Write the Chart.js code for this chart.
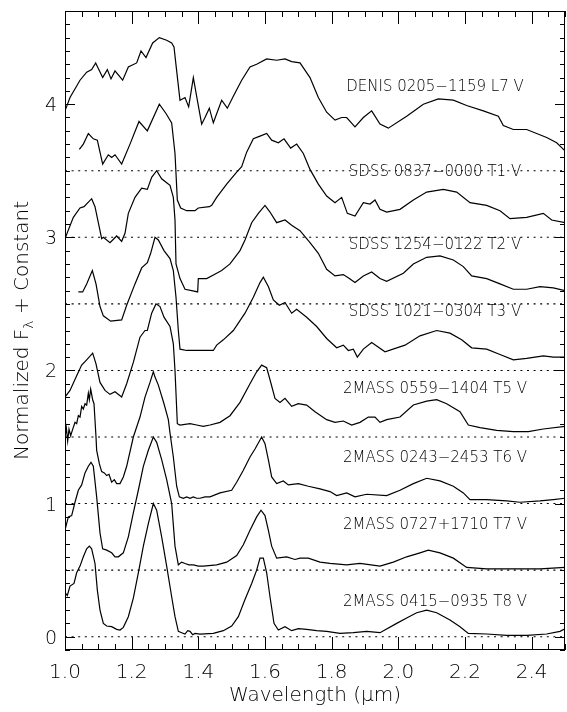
<!DOCTYPE html>
<html>
<head>
<meta charset="utf-8">
<script src="https://cdn.jsdelivr.net/npm/chart.js@4.4.0/dist/chart.umd.min.js"></script>
<style>
  html, body { margin: 0; padding: 0; background: #fff; overflow: hidden; }
</style>
</head>
<body>
<canvas id="specChart" width="567" height="712"></canvas>
<script>
// spectra: [wavelength (um), normalized flux + constant]
const specL7 = [[1.000,3.95],[1.015,4.05],[1.045,4.18],[1.065,4.24],[1.080,4.26],[1.092,4.31],[1.113,4.20],[1.127,4.26],[1.138,4.19],[1.150,4.25],[1.173,4.18],[1.190,4.28],[1.215,4.31],[1.228,4.40],[1.243,4.35],[1.263,4.46],[1.283,4.50],[1.305,4.48],[1.320,4.46],[1.327,4.43],[1.335,4.25],[1.345,4.03],[1.360,4.05],[1.371,3.98],[1.385,4.20],[1.397,4.03],[1.410,3.85],[1.420,3.90],[1.433,3.97],[1.445,3.86],[1.470,4.03],[1.487,3.97],[1.505,4.06],[1.530,4.18],[1.555,4.28],[1.575,4.30],[1.605,4.34],[1.635,4.33],[1.660,4.34],[1.680,4.32],[1.705,4.31],[1.735,4.20],[1.760,4.05],[1.785,3.94],[1.810,3.88],[1.830,3.90],[1.845,3.90],[1.870,3.83],[1.895,3.90],[1.920,3.95],[1.945,3.85],[1.970,3.82],[2.025,3.91],[2.075,4.00],[2.120,4.04],[2.165,4.03],[2.205,3.99],[2.255,3.95],[2.300,3.91],[2.315,3.84],[2.345,3.81],[2.385,3.81],[2.445,3.75],[2.475,3.71],[2.500,3.65]];
const specT1 = [[1.043,3.66],[1.055,3.70],[1.070,3.78],[1.085,3.74],[1.097,3.73],[1.113,3.55],[1.130,3.62],[1.140,3.60],[1.150,3.62],[1.170,3.55],[1.195,3.70],[1.222,3.87],[1.247,3.80],[1.283,4.00],[1.303,3.93],[1.320,3.86],[1.330,3.63],[1.337,3.28],[1.347,3.22],[1.365,3.20],[1.390,3.20],[1.400,3.22],[1.433,3.23],[1.440,3.24],[1.455,3.30],[1.485,3.40],[1.515,3.49],[1.530,3.53],[1.545,3.64],[1.565,3.74],[1.585,3.76],[1.605,3.78],[1.620,3.73],[1.640,3.71],[1.657,3.74],[1.677,3.67],[1.695,3.70],[1.715,3.63],[1.735,3.51],[1.760,3.40],[1.785,3.31],[1.810,3.26],[1.830,3.30],[1.847,3.18],[1.870,3.16],[1.895,3.26],[1.915,3.25],[1.930,3.28],[1.945,3.21],[1.965,3.19],[2.005,3.21],[2.045,3.28],[2.085,3.34],[2.135,3.36],[2.175,3.34],[2.215,3.26],[2.265,3.24],[2.305,3.20],[2.335,3.14],[2.385,3.15],[2.435,3.18],[2.460,3.13],[2.500,3.11]];
const specT2 = [[1.000,2.99],[1.025,3.15],[1.045,3.22],[1.057,3.23],[1.080,3.29],[1.090,3.23],[1.110,2.99],[1.115,3.00],[1.135,2.96],[1.155,3.01],[1.170,2.97],[1.180,3.03],[1.190,3.18],[1.210,3.30],[1.230,3.37],[1.247,3.36],[1.260,3.45],[1.275,3.50],[1.290,3.44],[1.305,3.41],[1.315,3.39],[1.325,3.30],[1.330,3.13],[1.333,2.80],[1.345,2.69],[1.360,2.61],[1.380,2.60],[1.398,2.59],[1.400,2.69],[1.425,2.69],[1.455,2.73],[1.470,2.75],[1.495,2.80],[1.525,2.90],[1.540,2.98],[1.560,3.11],[1.580,3.18],[1.600,3.24],[1.615,3.19],[1.635,3.11],[1.660,3.13],[1.680,3.09],[1.705,3.05],[1.735,2.96],[1.760,2.88],[1.785,2.76],[1.810,2.71],[1.835,2.72],[1.853,2.69],[1.870,2.66],[1.895,2.71],[1.920,2.74],[1.945,2.69],[1.965,2.67],[2.015,2.73],[2.045,2.80],[2.085,2.85],[2.125,2.86],[2.165,2.83],[2.195,2.78],[2.220,2.71],[2.265,2.69],[2.305,2.65],[2.345,2.61],[2.385,2.61],[2.425,2.63],[2.465,2.62],[2.500,2.60]];
const specT3 = [[1.040,2.59],[1.053,2.59],[1.065,2.65],[1.082,2.75],[1.093,2.65],[1.105,2.48],[1.115,2.41],[1.137,2.37],[1.170,2.38],[1.185,2.49],[1.210,2.65],[1.230,2.77],[1.247,2.81],[1.257,2.88],[1.270,3.00],[1.280,2.98],[1.297,2.90],[1.315,2.84],[1.325,2.75],[1.333,2.55],[1.340,2.30],[1.345,2.16],[1.365,2.15],[1.445,2.15],[1.455,2.19],[1.475,2.23],[1.505,2.30],[1.540,2.43],[1.565,2.55],[1.585,2.66],[1.595,2.70],[1.610,2.63],[1.625,2.53],[1.643,2.49],[1.660,2.51],[1.680,2.43],[1.695,2.46],[1.725,2.40],[1.755,2.33],[1.785,2.24],[1.815,2.17],[1.835,2.19],[1.850,2.15],[1.865,2.16],[1.877,2.10],[1.895,2.16],[1.920,2.21],[1.960,2.14],[2.020,2.19],[2.065,2.26],[2.115,2.30],[2.155,2.28],[2.190,2.23],[2.220,2.17],[2.265,2.16],[2.305,2.12],[2.345,2.08],[2.385,2.09],[2.435,2.11],[2.465,2.10],[2.500,2.10]];
const specT5 = [[1.000,1.80],[1.015,1.85],[1.035,1.96],[1.050,2.04],[1.065,2.08],[1.083,2.13],[1.093,2.05],[1.105,1.91],[1.120,1.85],[1.135,1.82],[1.150,1.84],[1.170,1.80],[1.185,1.90],[1.205,2.06],[1.225,2.25],[1.240,2.30],[1.247,2.30],[1.260,2.43],[1.273,2.50],[1.285,2.48],[1.297,2.40],[1.315,2.33],[1.325,2.20],[1.330,2.00],[1.337,1.60],[1.345,1.59],[1.375,1.60],[1.395,1.59],[1.415,1.58],[1.435,1.59],[1.465,1.61],[1.495,1.66],[1.525,1.76],[1.555,1.90],[1.575,1.99],[1.590,2.04],[1.605,2.02],[1.615,1.93],[1.630,1.79],[1.645,1.76],[1.660,1.79],[1.680,1.73],[1.700,1.75],[1.725,1.74],[1.750,1.69],[1.785,1.63],[1.810,1.61],[1.835,1.62],[1.860,1.59],[1.885,1.61],[1.910,1.65],[1.930,1.65],[1.945,1.61],[1.965,1.63],[2.005,1.65],[2.045,1.74],[2.085,1.77],[2.115,1.78],[2.145,1.75],[2.185,1.69],[2.210,1.59],[2.245,1.57],[2.295,1.55],[2.345,1.54],[2.390,1.54],[2.435,1.56],[2.500,1.58]];
const specT6 = [[1.000,1.50],[1.004,1.57],[1.008,1.47],[1.012,1.56],[1.017,1.51],[1.022,1.55],[1.030,1.61],[1.035,1.60],[1.040,1.66],[1.045,1.65],[1.050,1.73],[1.055,1.71],[1.060,1.75],[1.065,1.74],[1.070,1.83],[1.073,1.78],[1.077,1.86],[1.083,1.78],[1.087,1.75],[1.093,1.50],[1.095,1.40],[1.103,1.30],[1.110,1.24],[1.118,1.23],[1.125,1.21],[1.132,1.22],[1.140,1.16],[1.148,1.18],[1.155,1.15],[1.165,1.15],[1.175,1.20],[1.185,1.28],[1.205,1.50],[1.225,1.65],[1.240,1.80],[1.255,1.91],[1.265,1.99],[1.270,1.95],[1.280,1.89],[1.297,1.75],[1.310,1.63],[1.315,1.53],[1.325,1.35],[1.335,1.13],[1.343,1.05],[1.355,1.04],[1.365,1.05],[1.375,1.04],[1.385,1.05],[1.395,1.04],[1.405,1.04],[1.420,1.05],[1.435,1.05],[1.465,1.08],[1.500,1.10],[1.515,1.16],[1.535,1.25],[1.555,1.35],[1.570,1.41],[1.590,1.50],[1.600,1.45],[1.610,1.33],[1.620,1.20],[1.635,1.15],[1.655,1.17],[1.670,1.14],[1.700,1.15],[1.730,1.13],[1.765,1.11],[1.795,1.09],[1.815,1.06],[1.845,1.08],[1.870,1.05],[1.905,1.07],[1.965,1.06],[2.005,1.10],[2.045,1.15],[2.085,1.19],[2.125,1.17],[2.165,1.13],[2.195,1.08],[2.215,1.03],[2.265,1.03],[2.325,1.02],[2.365,1.01],[2.425,1.02],[2.465,1.03],[2.500,1.04]];
const specT7 = [[1.000,0.80],[1.010,0.90],[1.020,0.91],[1.030,1.01],[1.040,1.10],[1.050,1.14],[1.060,1.23],[1.070,1.28],[1.078,1.31],[1.085,1.28],[1.095,1.05],[1.105,0.78],[1.113,0.66],[1.125,0.65],[1.140,0.63],[1.150,0.60],[1.160,0.60],[1.175,0.63],[1.190,0.75],[1.205,0.93],[1.220,1.10],[1.235,1.28],[1.250,1.40],[1.265,1.50],[1.275,1.46],[1.290,1.33],[1.305,1.18],[1.320,1.00],[1.330,0.68],[1.340,0.54],[1.350,0.56],[1.360,0.55],[1.372,0.54],[1.385,0.54],[1.400,0.53],[1.415,0.53],[1.455,0.54],[1.485,0.56],[1.515,0.61],[1.535,0.69],[1.555,0.80],[1.575,0.90],[1.588,0.95],[1.600,0.91],[1.610,0.80],[1.620,0.68],[1.635,0.59],[1.665,0.60],[1.690,0.58],[1.705,0.59],[1.730,0.59],[1.765,0.56],[1.795,0.55],[1.845,0.54],[1.885,0.55],[1.945,0.53],[1.985,0.56],[2.025,0.60],[2.065,0.63],[2.090,0.65],[2.125,0.63],[2.165,0.59],[2.205,0.52],[2.265,0.51],[2.345,0.51],[2.425,0.51],[2.500,0.52]];
const specT8 = [[1.000,0.33],[1.007,0.31],[1.015,0.38],[1.027,0.40],[1.035,0.48],[1.045,0.53],[1.055,0.60],[1.065,0.66],[1.073,0.68],[1.080,0.66],[1.090,0.55],[1.097,0.35],[1.105,0.20],[1.115,0.10],[1.125,0.08],[1.140,0.075],[1.155,0.055],[1.165,0.05],[1.175,0.07],[1.190,0.15],[1.205,0.29],[1.220,0.48],[1.235,0.68],[1.250,0.85],[1.265,1.00],[1.275,0.95],[1.290,0.75],[1.305,0.53],[1.320,0.30],[1.330,0.15],[1.340,0.04],[1.350,0.03],[1.360,0.02],[1.368,0.045],[1.375,0.04],[1.383,0.015],[1.390,0.025],[1.405,0.02],[1.445,0.025],[1.475,0.045],[1.500,0.08],[1.520,0.15],[1.540,0.28],[1.560,0.40],[1.575,0.50],[1.585,0.59],[1.595,0.59],[1.605,0.48],[1.615,0.30],[1.627,0.10],[1.640,0.05],[1.660,0.075],[1.680,0.045],[1.700,0.06],[1.725,0.055],[1.755,0.045],[1.785,0.04],[1.825,0.025],[1.865,0.03],[1.905,0.04],[1.945,0.03],[1.995,0.10],[2.025,0.14],[2.055,0.18],[2.085,0.20],[2.115,0.18],[2.155,0.125],[2.185,0.075],[2.210,0.025],[2.265,0.02],[2.325,0.01],[2.385,0.01],[2.445,0.02],[2.485,0.04],[2.500,0.06]];

const spectra = [specL7, specT1, specT2, specT3, specT5, specT6, specT7, specT8];
const starNames = ['DENIS 0205\u22121159 L7 V', 'SDSS 0837\u22120000 T1 V', 'SDSS 1254\u22120122 T2 V', 'SDSS 1021\u22120304 T3 V',
  '2MASS 0559\u22121404 T5 V', '2MASS 0243\u22122453 T6 V', '2MASS 0727+1710 T7 V', '2MASS 0415\u22120935 T8 V'];
const offsets = [3.5, 3.0, 2.5, 2.0, 1.5, 1.0, 0.5, 0.0];
const nameY = [4.13, 3.49, 2.94, 2.44, 1.86, 1.34, 0.84, 0.26];
const nameX = 2.11;

const xLabels = [1.0, 1.2, 1.4, 1.6, 1.8, 2.0, 2.2, 2.4];
const yLabels = [0, 1, 2, 3, 4];
const X_MIN = 1.0, X_MAX = 2.5, Y_MIN = -0.1, Y_MAX = 4.7;

const FONT = "'DejaVu Sans', sans-serif";
const LIGHT = '200 ';

const datasets = [];
offsets.forEach(off => {
  datasets.push({
    data: [{ x: X_MIN, y: off }, { x: X_MAX, y: off }],
    borderColor: '#000',
    borderWidth: 1.1,
    borderDash: [2, 4.6],
    pointRadius: 0
  });
});
spectra.forEach(s => {
  datasets.push({
    data: s.map(p => ({ x: p[0], y: p[1] })),
    borderColor: '#000',
    borderWidth: 1.2,
    pointRadius: 0,
    tension: 0
  });
});

function seg(ctx, x1, y1, x2, y2) {
  ctx.beginPath();
  ctx.moveTo(x1, y1);
  ctx.lineTo(x2, y2);
  ctx.stroke();
}

const framePlugin = {
  id: 'frame',
  afterDraw(chart) {
    const { ctx, chartArea: a, scales: { x, y } } = chart;
    ctx.save();
    ctx.strokeStyle = '#000';
    ctx.lineWidth = 1;
    ctx.strokeRect(a.left + 0.5, a.top + 0.5, a.right - a.left - 1, a.bottom - a.top - 1);

    // inward ticks, x every 0.05 (major 0.2)
    for (let i = 0; i <= 30; i++) {
      const px = Math.round(x.getPixelForValue(X_MIN + i * 0.05)) + 0.5;
      const len = i % 4 === 0 ? 13 : 6;
      seg(ctx, px, a.bottom, px, a.bottom - len);
      seg(ctx, px, a.top, px, a.top + len);
    }
    // y every 0.1 (major 1)
    for (let i = -1; i <= 47; i++) {
      const py = Math.round(y.getPixelForValue(i / 10)) + 0.5;
      const len = i % 10 === 0 ? 10 : 5;
      seg(ctx, a.left, py, a.left + len, py);
      seg(ctx, a.right, py, a.right - len, py);
    }

    ctx.fillStyle = '#000';

    // tick labels
    ctx.font = LIGHT + '20px ' + FONT;
    ctx.textAlign = 'center';
    ctx.textBaseline = 'middle';
    xLabels.forEach(v => ctx.fillText(v.toFixed(1), x.getPixelForValue(v), a.bottom + 22.5));
    ctx.font = LIGHT + '19px ' + FONT;
    ctx.textAlign = 'right';
    yLabels.forEach(v => ctx.fillText(String(v), a.left - 8, y.getPixelForValue(v) + 2));

    // object names
    ctx.font = LIGHT + '15px ' + FONT;
    ctx.textAlign = 'center';
    starNames.forEach((n, i) => {
      ctx.fillText(n, x.getPixelForValue(nameX), y.getPixelForValue(nameY[i]));
    });

    // x title
    ctx.font = LIGHT + '20px ' + FONT;
    ctx.textBaseline = 'alphabetic';
    ctx.fillText('Wavelength (\u03BCm)', (a.left + a.right) / 2, 701);

    // y title with subscript lambda
    const p1 = 'Normalized F', p2 = '\u03BB', p3 = ' + Constant';
    ctx.font = LIGHT + '20px ' + FONT;
    const w1 = ctx.measureText(p1).width, w3 = ctx.measureText(p3).width;
    ctx.font = LIGHT + '14px ' + FONT;
    const w2 = ctx.measureText(p2).width;
    const total = w1 + w2 + w3;
    ctx.translate(28, (a.top + a.bottom) / 2);
    ctx.rotate(-Math.PI / 2);
    ctx.textAlign = 'left';
    let cx = -total / 2;
    ctx.font = LIGHT + '20px ' + FONT;
    ctx.fillText(p1, cx, 0);
    cx += w1;
    ctx.font = LIGHT + '14px ' + FONT;
    ctx.fillText(p2, cx, 5);
    cx += w2;
    ctx.font = LIGHT + '20px ' + FONT;
    ctx.fillText(p3, cx, 0);
    ctx.restore();
  }
};

function fixBox(size, isX) {
  return s => {
    if (isX) s.height = size; else s.width = size;
    s.paddingTop = 0; s.paddingBottom = 0; s.paddingLeft = 0; s.paddingRight = 0;
  };
}

new Chart(document.getElementById('specChart'), {
  type: 'line',
  data: { datasets },
  plugins: [framePlugin],
  options: {
    responsive: false,
    animation: false,
    devicePixelRatio: 1,
    layout: { padding: { top: 11, right: 2, left: 0, bottom: 0 } },
    plugins: { legend: { display: false }, tooltip: { enabled: false } },
    scales: {
      x: {
        type: 'linear',
        min: X_MIN,
        max: X_MAX,
        grid: { display: false, drawTicks: false },
        border: { display: false },
        ticks: { display: false },
        afterFit: fixBox(62, true)
      },
      y: {
        type: 'linear',
        min: Y_MIN,
        max: Y_MAX,
        grid: { display: false, drawTicks: false },
        border: { display: false },
        ticks: { display: false },
        afterFit: fixBox(65, false)
      }
    }
  }
});
</script>
</body>
</html>
